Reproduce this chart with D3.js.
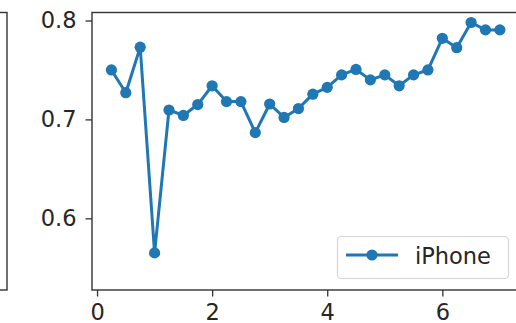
<!DOCTYPE html>
<html>
<head>
<meta charset="utf-8">
<script src="https://cdn.jsdelivr.net/npm/d3@7"></script>
<style>
  html, body { margin: 0; padding: 0; background: #fff; }
  svg { display: block; font-family: "DejaVu Sans", sans-serif; }
</style>
</head>
<body>
<svg id="chart" width="516" height="323"></svg>
<script>
// Series: iPhone score sampled every 0.25 units
const xValues = [0.25, 0.5, 0.75, 1.0, 1.25, 1.5, 1.75, 2.0, 2.25, 2.5, 2.75, 3.0, 3.25, 3.5,
                 3.75, 4.0, 4.25, 4.5, 4.75, 5.0, 5.25, 5.5, 5.75, 6.0, 6.25, 6.5, 6.75, 7.0];
const iphoneValues = [0.750, 0.727, 0.773, 0.565, 0.7095, 0.704, 0.715, 0.734, 0.718, 0.718, 0.6866, 0.7156, 0.702, 0.711,
                      0.7255, 0.7324, 0.745, 0.7505, 0.740, 0.745, 0.734, 0.745, 0.750, 0.782, 0.7725, 0.798, 0.7905, 0.7905];
const seriesName = "iPhone";
const xTicks = [0, 2, 4, 6];
const yTicks = [0.6, 0.7, 0.8];
const yTickLabels = ["0.6", "0.7", "0.8"];

const blue = "#1f77b4";
const fontSize = 22.5;

const svg = d3.select("#chart");

// Plot area
const plotLeft = 92, plotTop = 12.5, plotRight = 519.3, plotBottom = 290;

const x = d3.scaleLinear().domain([-0.0875, 7.3375]).range([plotLeft, plotRight]);
const y = d3.scaleLinear().domain([0.5275, 0.8081]).range([plotBottom, plotTop]);

// Edge of the neighbouring panel on the left
svg.append("rect")
  .attr("x", -20).attr("y", plotTop)
  .attr("width", 27).attr("height", plotBottom - plotTop)
  .attr("fill", "none").attr("stroke", "#333").attr("stroke-width", 1.4);

// Frame of the main panel
svg.append("rect")
  .attr("x", plotLeft).attr("y", plotTop)
  .attr("width", plotRight - plotLeft).attr("height", plotBottom - plotTop)
  .attr("fill", "none").attr("stroke", "#333").attr("stroke-width", 1.4);

// Axes
const xAxis = d3.axisBottom(x).tickValues(xTicks).tickFormat(d3.format("d"))
  .tickSize(6.5).tickPadding(8);
const yAxis = d3.axisLeft(y).tickValues(yTicks)
  .tickFormat((d, i) => yTickLabels[i]).tickSize(6.5).tickPadding(9);

const gx = svg.append("g").attr("transform", `translate(0,${plotBottom})`).call(xAxis);
const gy = svg.append("g").attr("transform", `translate(${plotLeft},0)`).call(yAxis);
[gx, gy].forEach(g => {
  g.select(".domain").remove();
  g.selectAll(".tick line").attr("stroke", "#333").attr("stroke-width", 1.3);
  g.selectAll(".tick text")
    .attr("fill", "#262626")
    .style("font-size", fontSize + "px")
    .style("font-family", "'DejaVu Sans', sans-serif");
});

// Line and markers
const pts = xValues.map((v, i) => [v, iphoneValues[i]]);
const clipId = "plot-clip";
svg.append("clipPath").attr("id", clipId)
  .append("rect").attr("x", plotLeft).attr("y", plotTop)
  .attr("width", plotRight - plotLeft).attr("height", plotBottom - plotTop);

const plot = svg.append("g").attr("clip-path", `url(#${clipId})`);
plot.append("path")
  .datum(pts)
  .attr("fill", "none")
  .attr("stroke", blue)
  .attr("stroke-width", 3)
  .attr("stroke-linejoin", "round")
  .attr("d", d3.line().x(d => x(d[0])).y(d => y(d[1])));

plot.selectAll("circle.pt")
  .data(pts)
  .enter().append("circle")
  .attr("class", "pt")
  .attr("cx", d => x(d[0]))
  .attr("cy", d => y(d[1]))
  .attr("r", 5.6)
  .attr("fill", blue);

// Legend
const lg = svg.append("g");
lg.append("rect")
  .attr("x", 337.5).attr("y", 236.5)
  .attr("width", 171).attr("height", 42)
  .attr("rx", 4).attr("ry", 4)
  .attr("fill", "#fff").attr("fill-opacity", 0.8)
  .attr("stroke", "#d5d5d5").attr("stroke-width", 1.2);
lg.append("line")
  .attr("x1", 346).attr("x2", 398)
  .attr("y1", 255).attr("y2", 255)
  .attr("stroke", blue).attr("stroke-width", 3);
lg.append("circle")
  .attr("cx", 372).attr("cy", 255).attr("r", 5.6).attr("fill", blue);
lg.append("text")
  .attr("x", 415).attr("y", 263.5)
  .attr("fill", "#262626")
  .style("font-size", fontSize + "px")
  .text(seriesName);
</script>
</body>
</html>
